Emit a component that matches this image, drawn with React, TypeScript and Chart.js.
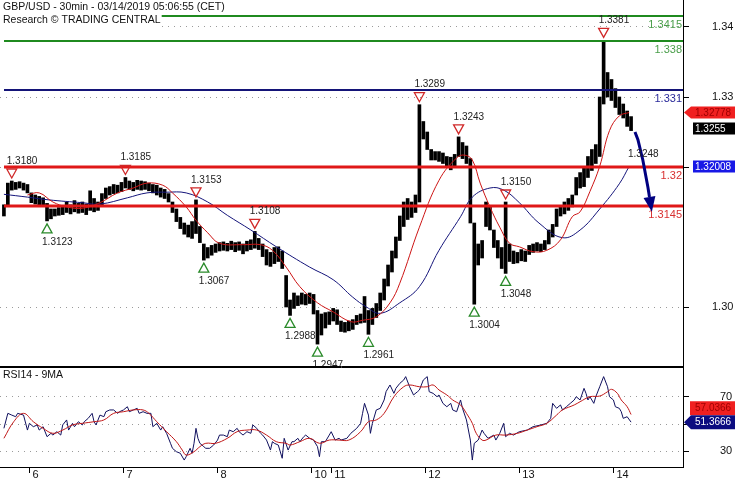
import React, { useEffect, useRef } from 'react';
import { Chart, registerables } from 'chart.js';

Chart.register(...registerables);

const FONT = '"Liberation Sans", Arial, sans-serif';

const TITLE = 'GBP/USD - 30min - 03/14/2019 05:06:55 (CET)';
const SUBTITLE = 'Research © TRADING CENTRAL';
const RSI_TITLE = 'RSI14 - 9MA';

// x axis: 30-minute bar index; day starts
const dayTickIdx = [13, 61, 109, 157, 167, 215, 263, 311];
const dayLabels = ['6', '7', '8', '10', '11', '12', '13', '14'];

// hourly high / low (one entry every 2 bars)
const candleStep = 2;
const candleHigh = [
  1.3146, 1.3177, 1.3180, 1.3178, 1.3179, 1.3177, 1.3175, 1.3163, 1.3160, 1.3158,
  1.3156, 1.3148, 1.3140, 1.3140, 1.3142, 1.3145, 1.3150, 1.3146, 1.3152, 1.3148,
  1.3150, 1.3147, 1.3166, 1.3155, 1.3150, 1.3162, 1.3170, 1.3172, 1.3175, 1.3174,
  1.3178, 1.3185, 1.3180, 1.3178, 1.3181, 1.3180, 1.3179, 1.3177, 1.3175, 1.3174,
  1.3170, 1.3168, 1.3162, 1.3150, 1.3140, 1.3128, 1.3120, 1.3117, 1.3122, 1.3153,
  1.3115, 1.3090, 1.3085, 1.3088, 1.3090, 1.3092, 1.3093, 1.3091, 1.3094, 1.3092,
  1.3093, 1.3090, 1.3094, 1.3096, 1.3108, 1.3098, 1.3090, 1.3082, 1.3078, 1.3085,
  1.3086, 1.3080, 1.3045, 1.3010, 1.3020, 1.3016, 1.3020, 1.3018, 1.3020, 1.3018,
  1.2995, 1.2990, 1.2992, 1.2993, 1.2998, 1.2996, 1.2980, 1.2978, 1.2980, 1.2982,
  1.2988, 1.2990, 1.3015, 1.2995, 1.2998, 1.3005, 1.3020, 1.3040, 1.3060, 1.3080,
  1.3100, 1.3130, 1.3150, 1.3155, 1.3150, 1.3160, 1.3289, 1.3265, 1.3250, 1.3225,
  1.3222, 1.3222, 1.3220, 1.3215, 1.3214, 1.3218, 1.3243, 1.3235, 1.3230, 1.3212,
  1.3120, 1.3090, 1.3095, 1.3150, 1.3145, 1.3110, 1.3095, 1.3085, 1.3150, 1.3090,
  1.3080, 1.3078, 1.3082, 1.3080, 1.3088, 1.3090, 1.3092, 1.3090, 1.3095, 1.3110,
  1.3118, 1.3140, 1.3145, 1.3150, 1.3155, 1.3160, 1.3185, 1.3192, 1.3200, 1.3215,
  1.3225, 1.3232, 1.3300, 1.3381, 1.3335, 1.3325, 1.3312, 1.3300, 1.3290, 1.3280,
  1.3272,
];
const candleLow = [
  1.3130, 1.3146, 1.3167, 1.3168, 1.3170, 1.3167, 1.3163, 1.3149, 1.3147, 1.3146,
  1.3144, 1.3123, 1.3126, 1.3130, 1.3131, 1.3132, 1.3135, 1.3133, 1.3136, 1.3134,
  1.3135, 1.3132, 1.3138, 1.3136, 1.3138, 1.3145, 1.3155, 1.3160, 1.3162, 1.3163,
  1.3165, 1.3170, 1.3168, 1.3166, 1.3168, 1.3167, 1.3168, 1.3166, 1.3163, 1.3160,
  1.3157, 1.3155, 1.3150, 1.3135, 1.3122, 1.3112, 1.3104, 1.3100, 1.3098, 1.3105,
  1.3092, 1.3067, 1.3070, 1.3074, 1.3078, 1.3080, 1.3081, 1.3080, 1.3082, 1.3079,
  1.3081, 1.3076, 1.3080, 1.3082, 1.3084, 1.3082, 1.3072, 1.3060, 1.3058, 1.3062,
  1.3065, 1.3055, 1.3000, 1.2988, 1.2998, 1.3002, 1.3004, 1.3003, 1.3005, 1.2990,
  1.2947, 1.2960, 1.2970, 1.2975, 1.2980, 1.2975, 1.2965, 1.2964, 1.2966, 1.2968,
  1.2975, 1.2977, 1.2978, 1.2961, 1.2975, 1.2985, 1.2995, 1.3010, 1.3030, 1.3050,
  1.3070, 1.3095, 1.3115, 1.3125, 1.3128, 1.3135, 1.3150, 1.3240, 1.3225, 1.3210,
  1.3210, 1.3208, 1.3205, 1.3200, 1.3196, 1.3200, 1.3215, 1.3212, 1.3205, 1.3120,
  1.3004, 1.3060, 1.3070, 1.3115, 1.3110, 1.3085, 1.3070, 1.3055, 1.3048, 1.3065,
  1.3062, 1.3063, 1.3066, 1.3065, 1.3075, 1.3078, 1.3080, 1.3079, 1.3082, 1.3090,
  1.3100, 1.3115, 1.3130, 1.3133, 1.3138, 1.3143, 1.3160, 1.3170, 1.3172, 1.3185,
  1.3195, 1.3205, 1.3215, 1.3290, 1.3300, 1.3295, 1.3285, 1.3275, 1.3270, 1.3258,
  1.3252,
];
const lastClose = 1.3255;

// moving averages (bar index / value)
const maRedIdx = [12, 18, 25, 32, 40, 49, 58, 66, 73, 81, 86, 93, 98, 104, 110, 122, 131, 137, 144, 151, 160, 168, 177, 183, 190, 197, 202, 212, 222, 231, 235, 239, 243, 248, 253, 258, 263, 270, 277, 284, 290, 294, 299, 304, 309, 314, 319];
const maRedVal = [1.3160, 1.3163, 1.3150, 1.3143, 1.3141, 1.3149, 1.3163, 1.3170, 1.3177, 1.3174, 1.3163, 1.3143, 1.3124, 1.3106, 1.3091, 1.3089, 1.3089, 1.3081, 1.3057, 1.3029, 1.3006, 1.2993, 1.2979, 1.2981, 1.2986, 1.3006, 1.3034, 1.3114, 1.3181, 1.3213, 1.3217, 1.3210, 1.3177, 1.3143, 1.3114, 1.3091, 1.3086, 1.3079, 1.3081, 1.3096, 1.3129, 1.3136, 1.3165, 1.3201, 1.3252, 1.3273, 1.32778];
const maBlueIdx = [0, 12, 23, 40, 49, 63, 73, 83, 93, 104, 114, 126, 139, 156, 168, 178, 185, 192, 202, 212, 222, 233, 239, 248, 255, 263, 273, 285, 294, 304, 314, 319];
const maBlueVal = [1.3161, 1.3157, 1.3153, 1.3149, 1.3147, 1.3156, 1.3163, 1.3164, 1.3163, 1.3150, 1.3131, 1.3110, 1.3086, 1.3057, 1.3039, 1.3014, 1.3000, 1.2991, 1.3006, 1.3029, 1.3081, 1.3129, 1.3157, 1.3170, 1.3167, 1.3149, 1.3120, 1.3099, 1.3110, 1.3140, 1.3176, 1.32008];

// horizontal levels
const levelVal = [1.3415, 1.338, 1.331, 1.32, 1.3145];
const levelLabel = ['1.3415', '1.338', '1.331', '1.32', '1.3145'];
const levelColor = ['#1f8a1f', '#1f8a1f', '#141478', '#e01818', '#e01818'];
const levelTextColor = ['#4a9e4a', '#4a9e4a', '#2a2a9a', '#d83030', '#d83030'];
const levelWidth = [2, 2, 2, 3, 3];

// pivots
const pivotHighIdx = [4, 62, 98, 128, 212, 232, 256, 306];
const pivotHighVal = [1.3180, 1.3185, 1.3153, 1.3108, 1.3289, 1.3243, 1.3150, 1.3381];
const pivotLowIdx = [22, 102, 146, 160, 186, 240, 256];
const pivotLowVal = [1.3123, 1.3067, 1.2988, 1.2947, 1.2961, 1.3004, 1.3048];
const pendingLowIdx = [321];
const pendingLowVal = [1.3248];

// projected path
const projIdx = [322, 323.5, 326, 328.6, 330.6];
const projVal = [1.3250, 1.3239, 1.3210, 1.3171, 1.3136];

const priceTicks = [1.30, 1.32, 1.33, 1.34];

// RSI 14 and its 9 MA
const rsiIdx = [0, 2, 4, 6, 7, 10, 12, 13, 15, 17, 18, 20, 22, 24, 25, 27, 29, 30, 32, 33, 35, 36, 38, 40, 41, 43, 45, 46, 47, 49, 51, 52, 54, 56, 58, 59, 61, 63, 64, 66, 68, 69, 71, 73, 75, 76, 78, 80, 81, 83, 85, 86, 88, 90, 92, 93, 95, 96, 97, 98, 99, 100, 102, 103, 105, 107, 109, 110, 112, 114, 115, 117, 119, 120, 122, 124, 126, 127, 129, 131, 132, 134, 136, 137, 138, 140, 142, 143, 145, 147, 148, 150, 151, 153, 154, 156, 158, 160, 161, 162, 164, 166, 167, 169, 171, 172, 175, 177, 180, 182, 183, 184, 186, 187, 188, 190, 192, 194, 195, 197, 199, 200, 202, 204, 205, 207, 209, 211, 212, 214, 216, 217, 219, 221, 222, 224, 226, 228, 229, 231, 233, 234, 236, 238, 239, 240, 242, 244, 245, 247, 250, 251, 253, 255, 256, 258, 260, 263, 267, 270, 274, 277, 279, 280, 282, 284, 285, 287, 289, 291, 292, 294, 296, 297, 298, 299, 301, 302, 304, 306, 308, 309, 311, 312, 314, 315, 316, 318, 320];
const rsiVal = [46.8, 57.9, 56.6, 55.4, 57.9, 56.6, 45.5, 50.5, 48.0, 49.3, 45.5, 48.0, 40.6, 43.1, 41.8, 44.3, 41.8, 49.3, 53.0, 45.5, 50.5, 48.0, 51.7, 49.3, 51.7, 54.2, 57.9, 51.7, 49.3, 56.6, 55.4, 59.1, 60.4, 60.4, 57.9, 59.1, 60.4, 62.8, 59.1, 60.4, 61.6, 57.9, 59.1, 57.9, 57.9, 48.0, 50.5, 45.5, 48.0, 43.1, 35.7, 32.0, 29.5, 28.3, 23.3, 25.8, 32.0, 28.3, 35.7, 46.8, 39.4, 35.7, 33.2, 32.0, 32.0, 34.4, 38.1, 41.8, 41.8, 40.6, 45.5, 44.3, 46.8, 44.3, 41.8, 44.3, 43.1, 49.3, 46.8, 43.1, 41.8, 38.1, 30.7, 36.9, 35.7, 34.4, 24.6, 39.4, 30.7, 36.9, 36.9, 39.4, 36.9, 40.6, 41.8, 39.4, 38.1, 33.2, 25.8, 36.9, 36.9, 41.8, 44.3, 38.1, 39.4, 38.1, 39.4, 43.1, 46.8, 50.5, 57.9, 65.3, 56.6, 43.1, 50.5, 60.4, 61.6, 67.8, 74.0, 78.9, 72.7, 76.4, 80.1, 82.6, 85.1, 77.6, 71.5, 73.9, 75.2, 82.6, 85.1, 73.9, 72.7, 70.2, 71.5, 65.3, 62.8, 65.3, 60.4, 59.1, 67.8, 61.6, 53.0, 38.1, 23.3, 35.7, 38.1, 45.5, 43.1, 39.4, 41.8, 38.1, 43.1, 50.5, 40.6, 43.1, 41.8, 44.3, 45.5, 48.0, 49.3, 50.5, 54.2, 65.3, 61.6, 64.1, 60.4, 62.8, 65.3, 67.8, 70.2, 67.8, 76.4, 72.7, 67.8, 70.2, 65.3, 70.2, 77.6, 85.1, 77.6, 70.2, 67.8, 62.8, 61.6, 59.1, 54.2, 55.4, 51.3666];
const rsiMaIdx = [0, 5, 10, 15, 20, 25, 30, 35, 40, 46, 51, 56, 61, 66, 71, 74, 78, 83, 88, 91, 93, 97, 100, 103, 108, 114, 119, 124, 129, 134, 139, 144, 146, 151, 156, 161, 166, 171, 176, 182, 186, 190, 194, 199, 204, 207, 212, 216, 219, 222, 226, 229, 233, 236, 239, 241, 244, 246, 251, 256, 262, 267, 272, 277, 282, 285, 291, 294, 299, 304, 308, 310, 313, 315, 318, 320];
const rsiMaVal = [39.4, 51.7, 57.9, 51.7, 46.8, 43.1, 45.5, 49.3, 50.5, 51.7, 53.0, 57.9, 59.1, 60.4, 60.4, 57.9, 51.7, 44.3, 36.9, 30.7, 27.0, 29.5, 33.2, 35.7, 35.7, 39.4, 44.3, 45.5, 45.5, 41.8, 36.9, 35.7, 34.4, 36.9, 39.4, 35.7, 38.1, 38.1, 38.1, 44.3, 51.7, 53.0, 57.9, 70.2, 77.6, 78.9, 77.6, 77.6, 78.9, 75.2, 71.5, 67.8, 64.1, 57.9, 50.5, 43.1, 38.1, 38.1, 41.8, 41.8, 43.1, 45.5, 48.0, 50.5, 56.6, 60.4, 64.1, 66.5, 70.2, 70.7, 73.9, 75.7, 72.7, 67.8, 62.8, 57.0366];
const rsiTicks = [30, 50, 70];
const rsiTickLabels = ['30', '', '70'];

// scale windows
const X_MIN = -2;
const X_MAX = 346.5;
const PRICE_MAX = 1.343857;
const PRICE_MIN = 1.291429;
const RSI_MAX = 92.22;
const RSI_MIN = 18.15;

const W = 735;
const PRICE_H = 367;
const RSI_H = 113;
const AXIS_W = 52;

function font(size: number) {
  return `${size}px ${FONT}`;
}

function fitY(s: any) {
  s.width = AXIS_W;
  s.paddingTop = 0;
  s.paddingBottom = 0;
}

function drawTag(ctx: CanvasRenderingContext2D, y: number, text: string, bg: string, fg: string, arrow: boolean, left: number, h: number) {
  const right = W;
  ctx.save();
  ctx.fillStyle = bg;
  ctx.beginPath();
  if (arrow) {
    ctx.moveTo(684, y);
    ctx.lineTo(691, y - h / 2);
    ctx.lineTo(right, y - h / 2);
    ctx.lineTo(right, y + h / 2);
    ctx.lineTo(691, y + h / 2);
    ctx.closePath();
  } else {
    ctx.rect(left, y - h / 2, right - left, h);
  }
  ctx.fill();
  ctx.fillStyle = fg;
  ctx.font = font(10);
  ctx.textAlign = 'left';
  ctx.textBaseline = 'middle';
  ctx.fillText(text, 695, y + 0.5);
  ctx.restore();
}

const priceOverlay = {
  id: 'priceOverlay',
  afterDatasetsDraw(chart: any) {
    const { ctx, chartArea, scales } = chart;
    const xs = scales.x;
    const ys = scales.y;
    ctx.save();
    // levels
    levelVal.forEach((v, i) => {
      const py = Math.round(ys.getPixelForValue(v));
      ctx.strokeStyle = levelColor[i];
      ctx.lineWidth = levelWidth[i];
      ctx.beginPath();
      ctx.moveTo(4, py);
      ctx.lineTo(chartArea.right, py);
      ctx.stroke();
      ctx.fillStyle = levelTextColor[i];
      ctx.font = font(11);
      ctx.textAlign = 'right';
      ctx.textBaseline = 'middle';
      ctx.fillText(levelLabel[i], chartArea.right - 1, py + 9);
    });
    // projection
    ctx.strokeStyle = '#000080';
    ctx.fillStyle = '#000080';
    ctx.lineWidth = 3;
    const pts = projIdx.map((ix, i) => [xs.getPixelForValue(ix), ys.getPixelForValue(projVal[i])]);
    const tip = pts[pts.length - 1];
    const prev = pts[pts.length - 2];
    const ang = Math.atan2(tip[1] - prev[1], tip[0] - prev[0]);
    const headLen = 15;
    const base = [tip[0] - headLen * Math.cos(ang), tip[1] - headLen * Math.sin(ang)];
    ctx.beginPath();
    ctx.moveTo(pts[0][0], pts[0][1]);
    for (let i = 1; i < pts.length - 1; i++) ctx.lineTo(pts[i][0], pts[i][1]);
    ctx.lineTo(base[0], base[1]);
    ctx.stroke();
    ctx.beginPath();
    ctx.moveTo(tip[0], tip[1]);
    ctx.lineTo(base[0] + 6 * Math.sin(ang), base[1] - 6 * Math.cos(ang));
    ctx.lineTo(base[0] - 6 * Math.sin(ang), base[1] + 6 * Math.cos(ang));
    ctx.closePath();
    ctx.fill();
    // pivots
    ctx.lineWidth = 1.3;
    ctx.font = font(10);
    ctx.textAlign = 'left';
    ctx.textBaseline = 'middle';
    pivotHighIdx.forEach((ix, i) => {
      const px = xs.getPixelForValue(ix);
      const py = ys.getPixelForValue(pivotHighVal[i]);
      ctx.strokeStyle = '#d02828';
      ctx.beginPath();
      ctx.moveTo(px - 5, py - 12);
      ctx.lineTo(px + 5, py - 12);
      ctx.lineTo(px, py - 3);
      ctx.closePath();
      ctx.stroke();
      ctx.fillStyle = '#222';
      ctx.fillText(pivotHighVal[i].toFixed(4), px - 5, py - 20);
    });
    pivotLowIdx.forEach((ix, i) => {
      const px = xs.getPixelForValue(ix);
      const py = ys.getPixelForValue(pivotLowVal[i]);
      ctx.strokeStyle = '#2a8a2a';
      ctx.beginPath();
      ctx.moveTo(px - 5, py + 12);
      ctx.lineTo(px + 5, py + 12);
      ctx.lineTo(px, py + 3);
      ctx.closePath();
      ctx.stroke();
      ctx.fillStyle = '#222';
      ctx.fillText(pivotLowVal[i].toFixed(4), px - 5, py + 21);
    });
    pendingLowIdx.forEach((ix, i) => {
      const px = xs.getPixelForValue(ix);
      const py = ys.getPixelForValue(pendingLowVal[i]);
      ctx.fillStyle = '#222';
      ctx.fillText(pendingLowVal[i].toFixed(4), px - 5, py + 21);
    });
    // title
    ctx.font = font(10.5);
    ctx.textBaseline = 'middle';
    ctx.textAlign = 'left';
    const tw = ctx.measureText(TITLE).width;
    const sw = ctx.measureText(SUBTITLE).width;
    ctx.fillStyle = '#fff';
    ctx.fillRect(0, 0, tw + 5, 13);
    ctx.fillRect(0, 13, sw + 4, 14);
    ctx.fillStyle = '#111';
    ctx.fillText(TITLE, 3, 7.5);
    ctx.fillText(SUBTITLE, 3, 20.5);
    ctx.restore();
  },
  afterDraw(chart: any) {
    const { ctx, chartArea, scales } = chart;
    const ys = scales.y;
    ctx.save();
    ctx.strokeStyle = '#000';
    ctx.lineWidth = 1;
    ctx.beginPath();
    ctx.moveTo(0, chartArea.bottom - 0.5);
    ctx.lineTo(chartArea.right, chartArea.bottom - 0.5);
    ctx.stroke();
    ctx.restore();
    const redLast = maRedVal[maRedVal.length - 1];
    const blueLast = maBlueVal[maBlueVal.length - 1];
    drawTag(ctx, ys.getPixelForValue(redLast), String(redLast), '#f02020', '#a00000', true, 691, 12);
    drawTag(ctx, ys.getPixelForValue(lastClose), String(lastClose), '#000000', '#ffffff', false, 693, 12);
    drawTag(ctx, ys.getPixelForValue(blueLast), String(blueLast), '#1818e6', '#ffffff', false, 693, 12);
  },
};

const rsiOverlay = {
  id: 'rsiOverlay',
  afterDatasetsDraw(chart: any) {
    const { ctx } = chart;
    ctx.save();
    ctx.font = font(10.5);
    ctx.fillStyle = '#111';
    ctx.textAlign = 'left';
    ctx.textBaseline = 'middle';
    ctx.fillText(RSI_TITLE, 3, 8.5);
    ctx.restore();
  },
  afterDraw(chart: any) {
    const { ctx, chartArea, scales } = chart;
    const ys = scales.y;
    ctx.save();
    ctx.strokeStyle = '#000';
    ctx.lineWidth = 1;
    ctx.beginPath();
    ctx.moveTo(0, chartArea.top + 0.5);
    ctx.lineTo(chartArea.right, chartArea.top + 0.5);
    ctx.stroke();
    ctx.restore();
    const rsiLast = rsiVal[rsiVal.length - 1];
    const maLast = rsiMaVal[rsiMaVal.length - 1];
    const by = ys.getPixelForValue(rsiLast);
    const ry = Math.min(ys.getPixelForValue(maLast), by - 14);
    drawTag(ctx, ry, maLast.toFixed(4), '#f02020', '#a00000', false, 690, 14);
    drawTag(ctx, by, rsiLast.toFixed(4), '#0c0c80', '#ffffff', true, 691, 14);
  },
};

const xScaleBase = { type: 'linear' as const, min: X_MIN, max: X_MAX, offset: false };

export default function App() {
  const priceRef = useRef<HTMLCanvasElement>(null);
  const rsiRef = useRef<HTMLCanvasElement>(null);

  useEffect(() => {
    const candles = candleHigh.map((h, k) => ({ x: k * candleStep, y: [candleLow[k], h] }));
    const red = maRedIdx.map((x, i) => ({ x, y: maRedVal[i] }));
    const blue = maBlueIdx.map((x, i) => ({ x, y: maBlueVal[i] }));

    const price = new Chart(priceRef.current!, {
      type: 'bar',
      data: {
        datasets: [
          { type: 'line', data: red, borderColor: '#cc1414', borderWidth: 1, pointRadius: 0, tension: 0.4, order: 0 } as any,
          { type: 'line', data: blue, borderColor: '#14147a', borderWidth: 1, pointRadius: 0, tension: 0.4, order: 0 } as any,
          { type: 'bar', data: candles as any, backgroundColor: '#000', borderWidth: 0, barThickness: 3, grouped: false, order: 1 } as any,
        ],
      },
      options: {
        responsive: false,
        animation: false,
        devicePixelRatio: 1,
        layout: { padding: 0 },
        plugins: { legend: { display: false }, tooltip: { enabled: false }, title: { display: false } },
        scales: {
          x: { ...xScaleBase, display: false },
          y: {
            type: 'linear',
            position: 'right',
            min: PRICE_MIN,
            max: PRICE_MAX,
            afterFit: fitY,
            afterBuildTicks: (s: any) => { s.ticks = priceTicks.map((v) => ({ value: v })); },
            ticks: { padding: 23, color: '#111', font: { family: FONT, size: 11 }, callback: (v: any) => Number(v).toFixed(2) },
            grid: { color: '#9a9a9a', tickColor: '#000', tickLength: 6, lineWidth: 1 },
            border: { display: true, color: '#000', width: 1, dash: [1, 5] },
          },
        },
      },
      plugins: [priceOverlay],
    });

    const rsiLine = rsiIdx.map((x, i) => ({ x, y: rsiVal[i] }));
    const rsiMa = rsiMaIdx.map((x, i) => ({ x, y: rsiMaVal[i] }));
    const rsi = new Chart(rsiRef.current!, {
      type: 'line',
      data: {
        datasets: [
          { data: rsiMa, borderColor: '#c01818', borderWidth: 1, pointRadius: 0, tension: 0.4 },
          { data: rsiLine, borderColor: '#10105e', borderWidth: 1, pointRadius: 0, tension: 0 },
        ],
      },
      options: {
        responsive: false,
        animation: false,
        devicePixelRatio: 1,
        layout: { padding: 0 },
        plugins: { legend: { display: false }, tooltip: { enabled: false } },
        scales: {
          x: {
            ...xScaleBase,
            position: 'bottom',
            afterFit: (s: any) => { s.height = RSI_H - 100; s.paddingLeft = 0; s.paddingRight = 0; },
            afterBuildTicks: (s: any) => { s.ticks = dayTickIdx.map((v) => ({ value: v })); },
            ticks: {
              autoSkip: false, maxRotation: 0, minRotation: 0, align: 'start', labelOffset: 3, padding: -5,
              color: '#111', font: { family: FONT, size: 11 },
              callback: (_v: any, i: number) => dayLabels[i],
            },
            grid: { drawOnChartArea: false, drawTicks: true, tickLength: 6, tickColor: '#000' },
            border: { display: true, color: '#000', width: 1 },
          },
          y: {
            type: 'linear',
            position: 'right',
            min: RSI_MIN,
            max: RSI_MAX,
            afterFit: fitY,
            afterBuildTicks: (s: any) => { s.ticks = rsiTicks.map((v) => ({ value: v })); },
            ticks: { padding: 31, color: '#111', font: { family: FONT, size: 11 }, callback: (_v: any, i: number) => rsiTickLabels[i] },
            grid: { color: '#9a9a9a', tickColor: '#000', tickLength: 6, lineWidth: 1 },
            border: { display: true, color: '#000', width: 1, dash: [1, 5] },
          },
        },
      },
      plugins: [rsiOverlay],
    });

    return () => {
      price.destroy();
      rsi.destroy();
    };
  }, []);

  return (
    <div style={{ position: 'fixed', left: 0, top: 0, width: W, height: PRICE_H + RSI_H, background: '#fff' }}>
      <canvas ref={priceRef} width={W} height={PRICE_H} style={{ position: 'absolute', left: 0, top: 0, width: W, height: PRICE_H }} />
      <canvas ref={rsiRef} width={W} height={RSI_H} style={{ position: 'absolute', left: 0, top: PRICE_H, width: W, height: RSI_H }} />
    </div>
  );
}
